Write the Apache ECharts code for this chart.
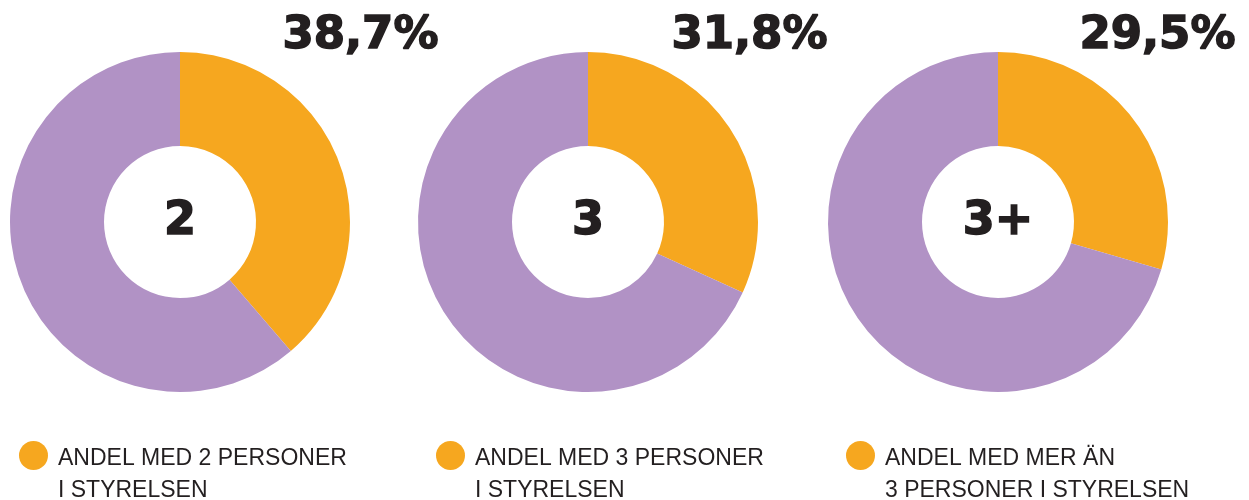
<!DOCTYPE html>
<html>
<head>
<meta charset="utf-8">
<script src="https://cdn.jsdelivr.net/npm/echarts@6/dist/echarts.min.js"></script>
<style>
  html, body { margin: 0; padding: 0; background: #fff; }
  #chart { width: 1249px; height: 500px; }
</style>
</head>
<body>
<div id="chart"></div>
<script>
  // andel styrelser per antal personer
  const groups = ['2', '3', '3+'];
  const shares = [38.7, 31.8, 29.5];
  const legendNames = [
    'ANDEL MED 2 PERSONER\nI STYRELSEN',
    'ANDEL MED 3 PERSONER\nI STYRELSEN',
    'ANDEL MED MER ÄN\n3 PERSONER I STYRELSEN',
  ];

  const COLORS = {
    share: '#f6a71f',
    rest:  '#b192c5',
    text:  '#231f20',
  };

  const centersX = [180, 588, 998];
  const pctRight = [440, 829, 1237];
  const legendLeft = [14, 431, 841];

  const fmtPct = v => v.toFixed(1).replace('.', ',') + '%';

  const chart = echarts.init(document.getElementById('chart'));

  chart.setOption({
    animation: false,
    title: groups.map((g, i) => ({
      text: fmtPct(shares[i]),
      right: 1249 - pctRight[i],
      top: 14,
      padding: 0,
      textStyle: {
        fontFamily: 'DejaVu Sans',
        fontWeight: 'bold',
        fontSize: 45,
        color: COLORS.text,
        textBorderColor: COLORS.text,
        textBorderWidth: 1.5,
      },
    })),
    legend: groups.map((g, i) => ({
      data: [legendNames[i]],
      left: legendLeft[i],
      top: 399,
      icon: 'circle',
      itemWidth: 39,
      itemHeight: 29,
      selectedMode: false,
      // empty first row so the dot lines up with the first text row
      formatter: name => '{gap|}\n' + name,
      textStyle: {
        fontFamily: 'Liberation Sans',
        fontSize: 23,
        lineHeight: 32,
        color: COLORS.text,
        rich: {
          gap: { lineHeight: 39, fontSize: 23 },
        },
      },
    })),
    series: groups.map((g, i) => ({
      type: 'pie',
      center: [centersX[i], 222],
      radius: [76, 170],
      startAngle: 90,
      silent: true,
      label: { show: false },
      labelLine: { show: false },
      data: [
        {
          name: legendNames[i],
          value: shares[i],
          itemStyle: { color: COLORS.share },
          label: {
            show: true,
            position: 'center',
            formatter: () => g,
            fontFamily: 'DejaVu Sans',
            fontWeight: 'bold',
            fontSize: 46,
            color: COLORS.text,
            textBorderColor: COLORS.text,
            textBorderWidth: 1.5,
          },
        },
        { name: 'rest', value: 100 - shares[i], itemStyle: { color: COLORS.rest } },
      ],
    })),
  });
</script>
</body>
</html>
